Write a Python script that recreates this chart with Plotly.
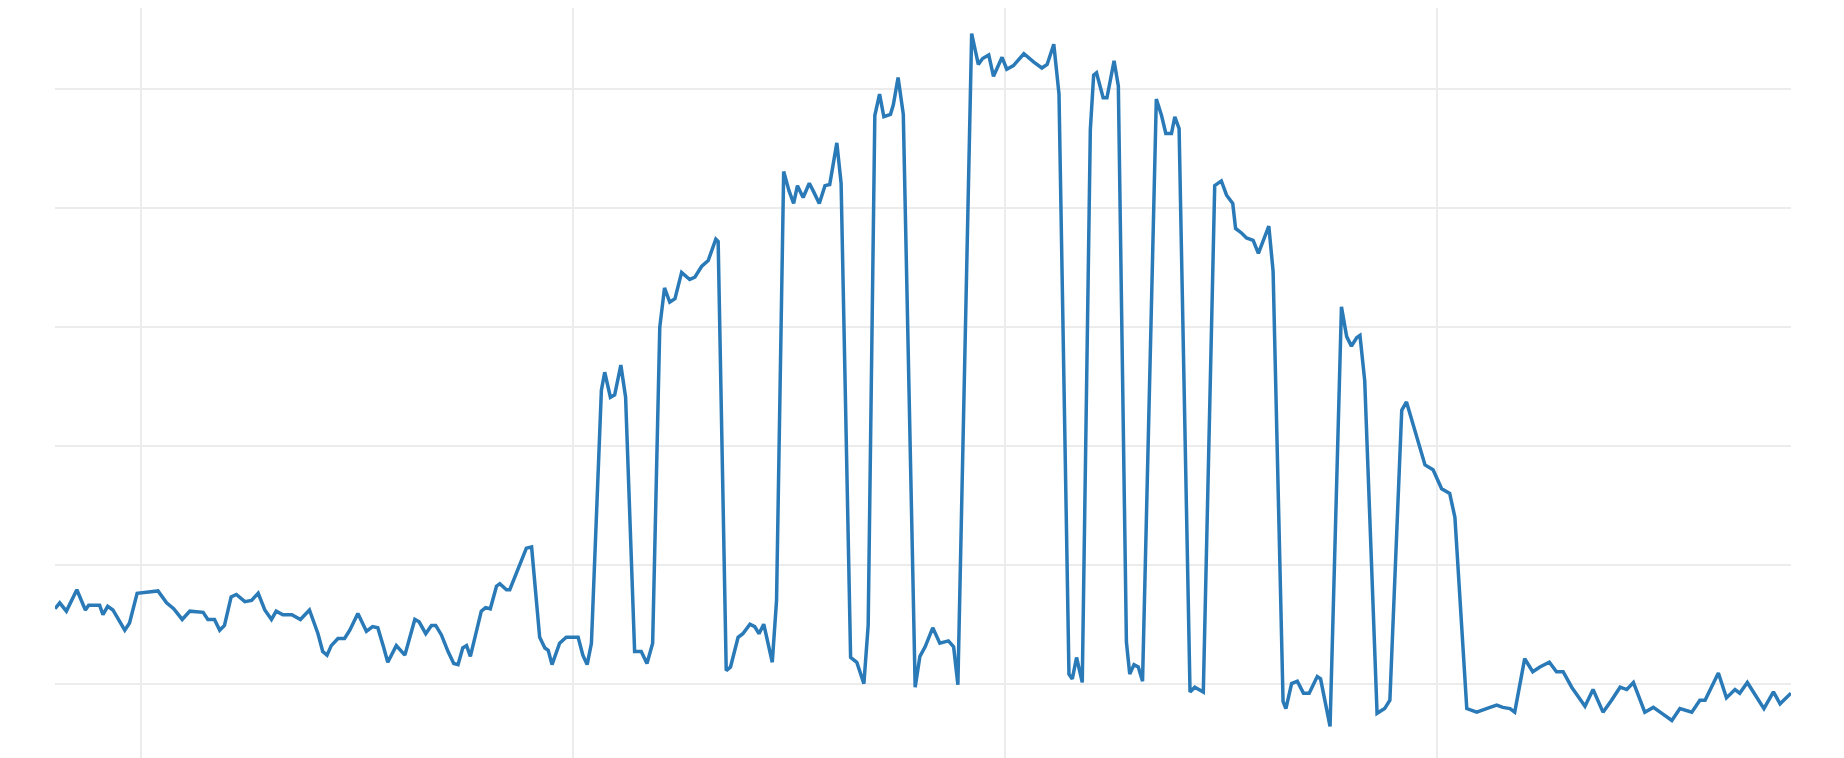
import plotly.graph_objects as go

days = [
    0, 1.0, 2.4, 4.6, 6.4, 7.1, 9.4, 10.1, 11.1, 12.2, 14.7, 15.7, 17.3, 19.1, 21.7, 23.5, 25.0, 26.8, 28.4, 31.2,
    32.2, 33.6, 34.7, 35.7, 37.1, 38.2, 40.0, 41.4, 42.8, 44.2, 45.6, 46.6, 48.0, 49.9, 51.7, 53.6, 55.4, 56.4, 57.3, 58.2,
    59.6, 61.0, 62.1, 63.8, 65.6, 66.9, 68.0, 69.2, 70.1, 71.9, 73.7, 75.8, 76.7, 78.1, 79.3, 80.2, 81.4, 82.8, 84.0, 84.9,
    85.9, 86.7, 87.5, 89.8, 90.7, 91.7, 93.0, 93.7, 95.1, 95.8, 99.3, 100.4, 102.1, 103.2, 103.9, 104.7, 106.3, 107.7, 110.2, 111.2,
    112.1, 113.0, 115.1, 115.8, 117.0, 117.9, 119.2, 120.2, 122.1, 123.5, 124.7, 125.9, 127.4, 128.4, 129.5, 130.6, 132.0, 133.7, 134.8, 136.2,
    137.6, 139.2, 139.7, 141.4, 142.3, 143.9, 144.9, 146.4, 147.4, 148.3, 149.3, 151.1, 152.0, 153.5, 154.6, 155.6, 156.4, 157.6, 158.9, 159.8,
    161.0, 162.2, 163.2, 164.7, 165.6, 167.6, 168.9, 170.4, 171.3, 172.7, 173.7, 174.6, 176.0, 176.6, 177.6, 178.7, 181.2, 182.2, 183.3, 184.9,
    186.4, 188.2, 189.3, 190.2, 193.1, 194.5, 195.4, 196.7, 197.7, 199.5, 200.5, 201.9, 204.1, 206.2, 207.9, 209.0, 210.4, 211.5, 213.6, 214.3,
    215.2, 216.4, 218.1, 218.8, 219.4, 220.8, 221.6, 223.1, 224.0, 225.7, 226.4, 227.3, 228.2, 229.1, 232.0, 233.1, 234.0, 235.2, 235.9, 236.8,
    239.1, 240.1, 241.9, 244.3, 245.7, 246.8, 248.1, 248.7, 250.0, 251.0, 252.4, 253.5, 255.7, 256.6, 258.7, 259.3, 260.5, 261.7, 263.0, 264.2,
    265.9, 266.6, 268.6, 271.0, 272.1, 273.1, 274.2, 274.9, 275.9, 278.5, 280.1, 281.2, 282.6, 283.7, 284.7, 286.8, 288.6, 290.3, 292.1, 293.8,
    294.9, 297.4, 299.5, 302.3, 303.7, 305.0, 306.5, 307.5, 309.6, 311.3, 312.8, 314.8, 316.3, 317.7, 319.5, 320.9, 322.3, 324.0, 326.1, 327.9,
    329.7, 331.1, 332.5, 334.9, 336.7, 338.5, 340.6, 342.3, 344.8, 346.5, 347.6, 350.4, 352.1, 353.9, 354.9, 356.5, 358.5, 360.0, 362.0, 363.4,
    365.7,
]

values = [
    6.3, 6.8, 6.1, 7.9, 6.2, 6.6, 6.6, 5.8, 6.5, 6.2, 4.5, 5.1, 7.6, 7.7, 7.8, 6.8, 6.3, 5.4, 6.1, 6.0,
    5.4, 5.4, 4.5, 4.9, 7.3, 7.5, 6.9, 7.0, 7.6, 6.2, 5.4, 6.1, 5.8, 5.8, 5.4, 6.2, 4.2, 2.7, 2.4, 3.2,
    3.8, 3.8, 4.5, 5.9, 4.4, 4.8, 4.7, 3.1, 1.8, 3.2, 2.4, 5.4, 5.2, 4.2, 4.9, 4.9, 4.1, 2.7, 1.7, 1.6,
    3.0, 3.2, 2.3, 6.1, 6.4, 6.3, 8.2, 8.4, 7.9, 7.9, 11.4, 11.5, 3.9, 3.0, 2.8, 1.6, 3.4, 3.9, 3.9, 2.4,
    1.6, 3.4, 24.7, 26.2, 24.1, 24.3, 26.8, 24.1, 2.7, 2.7, 1.7, 3.4, 30.0, 33.3, 32.1, 32.4, 34.6, 34.0, 34.2, 35.1,
    35.6, 37.4, 37.2, 1.1, 1.4, 3.9, 4.2, 5.0, 4.8, 4.2, 5.0, 1.8, 7.0, 43.1, 41.5, 40.4, 41.9, 40.9, 42.1, 41.4,
    40.4, 41.9, 42.0, 45.5, 42.1, 2.2, 1.8, 0.0, 4.9, 47.8, 49.6, 47.7, 47.9, 48.7, 51.0, 47.9, -0.3, 2.3, 3.1, 4.7,
    3.4, 3.6, 3.1, -0.1, 54.7, 52.1, 52.6, 52.9, 51.1, 52.7, 51.7, 52.0, 53.0, 52.3, 51.8, 52.1, 53.8, 49.6, 0.8, 0.4,
    2.2, 0.1, 46.6, 51.2, 51.4, 49.3, 49.3, 52.4, 50.3, 3.5, 0.8, 1.6, 1.4, 0.2, 49.2, 47.8, 46.3, 46.3, 47.7, 46.7,
    -0.7, -0.3, -0.7, 41.9, 42.3, 41.1, 40.4, 38.3, 37.9, 37.5, 37.3, 36.2, 38.5, 34.7, -1.5, -2.1, 0.0, 0.2, -0.8, -0.8,
    0.6, 0.4, -3.6, 31.7, 29.2, 28.4, 29.1, 29.3, 25.5, -2.5, -2.1, -1.4, 11.5, 23.0, 23.7, 20.8, 18.4, 18.0, 16.4, 16.0,
    14.0, -2.1, -2.4, -2.0, -1.8, -2.0, -2.1, -2.4, 2.1, 1.0, 1.4, 1.8, 1.0, 1.0, -0.3, -1.1, -1.9, -0.5, -2.4, -1.4,
    -0.3, -0.5, 0.1, -2.4, -2.0, -2.5, -3.1, -2.1, -2.4, -1.4, -1.4, 0.9, -1.2, -0.5, -0.8, 0.1, -1.1, -2.1, -0.7, -1.7,
    -0.8,
]

fig = go.Figure()
fig.add_trace(go.Scatter(
    x=days, y=values, mode="lines",
    line=dict(color="#2a7ab8", width=3.5),
    showlegend=False, hoverinfo="skip",
))

fig.update_layout(
    width=1844, height=758,
    margin=dict(l=47, r=61, t=0, b=0, pad=0),
    paper_bgcolor="white", plot_bgcolor="white",
    showlegend=False,
)
fig.update_xaxes(
    range=[0, 365.7], tick0=18.2, dtick=91,
    showgrid=True, gridcolor="#ececec", gridwidth=2,
    showticklabels=False, ticks="", zeroline=False, showline=False,
)
fig.update_yaxes(
    range=[-6.93, 56.85], tick0=0, dtick=10,
    showgrid=True, gridcolor="#ececec", gridwidth=2,
    showticklabels=False, ticks="", zeroline=False, showline=False,
)

fig.write_html("out.html", config={"displayModeBar": False})
